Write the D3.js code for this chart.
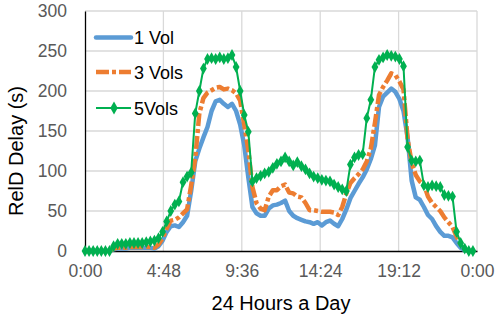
<!DOCTYPE html>
<html><head><meta charset="utf-8">
<script src="https://cdn.jsdelivr.net/npm/d3@7"></script>
<style>html,body{margin:0;padding:0;background:#fff;}svg{display:block;font-family:"Liberation Sans",Arial,sans-serif;}</style>
</head><body><div id="chart"></div>
<script>
// 15-minute samples over 24 hours (index i -> i/4 hours)
const vol1 = [0,0,0,0,0,0,0,2,3,3,3,4,4,4,4,4,4,3,6,13,24,31,32,30,36,44,75,112,128,142,155,175,187,189,184,180,184,175,158,132,92,55,47,44,44,53,57,58,60,63,50,44,41,39,37,36,34,36,32,36,38,34,31,40,52,66,75,84,92,102,115,132,180,193,198,203,199,190,175,142,88,67,64,55,45,40,31,24,19,19,17,10,4,1,0,0];
const vol3 = [0,0,0,0,0,0,0,3,4,4,4,5,5,5,5,5,5,4,8,16,28,38,39,42,47,52,82,116,172,191,198,201,204,205,202,203,201,197,188,158,126,80,60,53,51,68,76,76,81,83,73,72,68,67,60,51,51,50,49,49,49,48,45,55,72,85,91,96,102,112,128,160,195,205,213,222,220,212,202,140,110,95,87,83,68,60,55,50,42,36,30,18,8,2,0,0];
const vol5 = [0,0,0,0,0,0,0,6,9,9,9,10,10,10,10,11,12,13,16,24,37,50,58,62,86,93,98,172,200,228,240,241,240,242,240,241,245,230,200,170,149,87,91,94,97,99,104,109,112,117,112,107,111,106,102,97,93,91,89,88,87,83,80,77,75,108,117,120,121,166,189,230,239,242,245,244,243,240,231,130,113,112,113,82,80,82,81,80,70,69,68,24,10,3,0,0];
const seriesNames = ["1 Vol","3 Vols","5Vols"];
const xTickHours = [0,4.8,9.6,14.4,19.2,24];
const xTickLabels = ["0:00","4:48","9:36","14:24","19:12","0:00"];
const yTicks = [0,50,100,150,200,250,300];
const xTitle = "24 Hours a Day";
const yTitle = "RelD Delay (s)";

const W=498,H=317;
const svg=d3.select("#chart").append("svg").attr("width",W).attr("height",H);
const x=d3.scaleLinear().domain([0,24]).range([85,477]);
const y=d3.scaleLinear().domain([0,300]).range([251,11]);

// gridlines
svg.append("g").selectAll("line").data(yTicks.filter(d=>d>0)).join("line")
  .attr("x1",x(0)).attr("x2",x(24)).attr("y1",d=>y(d)).attr("y2",d=>y(d))
  .attr("stroke","#d9d9d9").attr("stroke-width",1.3);
svg.append("g").selectAll("line").data(xTickHours.filter(d=>d>0)).join("line")
  .attr("x1",d=>x(d)).attr("x2",d=>x(d)).attr("y1",y(0)).attr("y2",y(300))
  .attr("stroke","#d9d9d9").attr("stroke-width",1.3);

// axes
const yAxis=svg.append("g").attr("transform",`translate(${x(0)},0)`)
  .call(d3.axisLeft(y).tickValues(yTicks).tickSize(0).tickPadding(18));
yAxis.select(".domain").attr("stroke","#000").attr("stroke-width",1.3);
yAxis.selectAll("text").attr("fill","#595959").attr("font-size",17.5).attr("font-family","Liberation Sans, Arial, sans-serif");
const xAxis=svg.append("g").attr("transform",`translate(0,${y(0)})`)
  .call(d3.axisBottom(x).tickValues(xTickHours).tickFormat((d,i)=>xTickLabels[i]).tickSize(0).tickPadding(14));
xAxis.select(".domain").attr("stroke","#000").attr("stroke-width",1.3);
xAxis.selectAll("text").attr("fill","#595959").attr("font-size",17.5).attr("font-family","Liberation Sans, Arial, sans-serif");

// titles
svg.append("text").attr("x",281).attr("y",310).attr("text-anchor","middle")
  .attr("font-size",20).attr("fill","#000").text(xTitle);
svg.append("text").attr("transform","translate(23,151) rotate(-90)").attr("text-anchor","middle")
  .attr("font-size",20).attr("fill","#000").text(yTitle);

const line=d3.line().x((d,i)=>x(i/4)).y(d=>y(d));
const colors=["#5b9bd5","#ed7d31","#00b050"];

svg.append("path").datum(vol1).attr("d",line).attr("fill","none")
  .attr("stroke",colors[0]).attr("stroke-width",4.5).attr("stroke-linejoin","round").attr("stroke-linecap","round");
svg.append("path").datum(vol3).attr("d",line).attr("fill","none")
  .attr("stroke",colors[1]).attr("stroke-width",4.5).attr("stroke-dasharray","13,3,4,3").attr("stroke-linejoin","round");
svg.append("path").datum(vol5).attr("d",line).attr("fill","none")
  .attr("stroke",colors[2]).attr("stroke-width",2).attr("stroke-linejoin","round");
const diamond=d3.symbol().type(d3.symbolDiamond).size(40);
svg.append("g").selectAll("path").data(vol5).join("path")
  .attr("transform",(d,i)=>`translate(${x(i/4)},${y(d)})`)
  .attr("d",diamond).attr("fill",colors[2]);

// legend
const lg=svg.append("g");
const ly=[37.5,72,108];
seriesNames.forEach((n,k)=>{
  const l=lg.append("line").attr("x1",96).attr("x2",131).attr("y1",ly[k]).attr("y2",ly[k])
    .attr("stroke",colors[k]).attr("stroke-width",k===2?2:4.5).attr("stroke-linecap",k===0?"round":"butt");
  if(k===1) l.attr("stroke-dasharray","13,3,4,3");
  if(k===2) lg.append("path").attr("transform",`translate(114,${ly[k]})`).attr("d",d3.symbol().type(d3.symbolDiamond).size(48)).attr("fill",colors[2]);
  lg.append("text").attr("x",134).attr("y",ly[k]+6.5).attr("font-size",18).attr("fill","#000").text(n);
});
</script></body></html>
